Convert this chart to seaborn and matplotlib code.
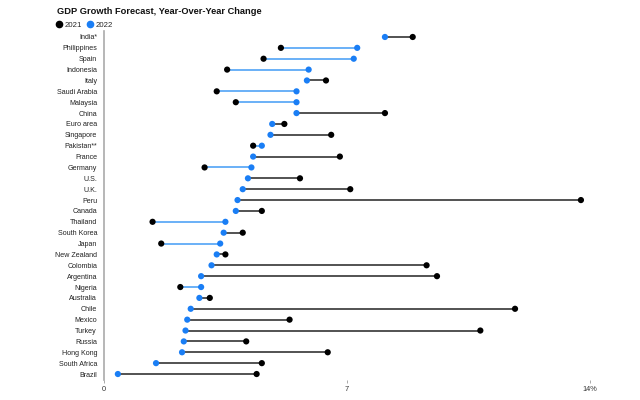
import matplotlib
matplotlib.use("Agg")
import matplotlib.pyplot as plt
from matplotlib.lines import Line2D
import seaborn as sns
import pandas as pd

# forecast values (percent)
countries = ["India*", "Philippines", "Spain", "Indonesia", "Italy", "Saudi Arabia",
             "Malaysia", "China", "Euro area", "Singapore", "Pakistan**", "France",
             "Germany", "U.S.", "U.K.", "Peru", "Canada", "Thailand", "South Korea",
             "Japan", "New Zealand", "Colombia", "Argentina", "Nigeria", "Australia",
             "Chile", "Mexico", "Turkey", "Russia", "Hong Kong", "South Africa", "Brazil"]
gdp_2021 = [8.9, 5.1, 4.6, 3.55, 6.4, 3.25, 3.8, 8.1, 5.2, 6.55, 4.3, 6.8,
            2.9, 5.65, 7.1, 13.75, 4.55, 1.4, 4.0, 1.65, 3.5, 9.3, 9.6, 2.2,
            3.05, 11.85, 5.35, 10.85, 4.1, 6.45, 4.55, 4.4]
gdp_2022 = [8.1, 7.3, 7.2, 5.9, 5.85, 5.55, 5.55, 5.55, 4.85, 4.8, 4.55, 4.3,
            4.25, 4.15, 4.0, 3.85, 3.8, 3.5, 3.45, 3.35, 3.25, 3.1, 2.8, 2.8,
            2.75, 2.5, 2.4, 2.35, 2.3, 2.25, 1.5, 0.4]
years = ["2021", "2022"]
xticks = [0, 7, 14]
xtick_labels = ["0", "7", "14%"]

BLUE = "#1a7ef5"
LIGHT_BLUE = "#5eaaf7"
GREY = "#444444"

df = pd.DataFrame({"country": countries, "2021": gdp_2021, "2022": gdp_2022})
long = df.melt(id_vars="country", value_vars=years, var_name="year", value_name="gdp")

sns.set_style("white")
plt.rcParams["font.family"] = ["Liberation Sans", "DejaVu Sans"]

fig = plt.figure(figsize=(6.4, 4), dpi=100)
ax = fig.add_axes([104 / 640, 0.05, 496 / 640, 0.8725])

pos = {c: i for i, c in enumerate(countries)}
for _, r in df.iterrows():
    col = LIGHT_BLUE if r["2022"] > r["2021"] else GREY
    ax.hlines(pos[r["country"]], r["2021"], r["2022"], color=col, lw=1.3, zorder=1)

sns.scatterplot(data=long, x="gdp", y="country", hue="year", hue_order=years,
                palette={"2021": "black", "2022": BLUE}, s=20, linewidth=0,
                legend=False, ax=ax, zorder=2)

ax.set_xlim(0, 14.3)
ax.set_ylim(31.55, -0.55)
ax.set_xlabel("")
ax.set_ylabel("")
ax.set_xticks(xticks)
ax.set_xticklabels(xtick_labels)
ax.tick_params(axis="x", length=2, width=0.5, color="#888888", labelsize=5.3,
               labelcolor="#333333", pad=2, bottom=True)
ax.tick_params(axis="y", length=0, labelsize=5.1, labelcolor="#222222", pad=5)
for s in ["top", "right", "bottom"]:
    ax.spines[s].set_visible(False)
ax.spines["left"].set_color("#aaaaaa")
ax.spines["left"].set_linewidth(1.2)

fig.text(57 / 640, 1 - 11 / 400, "GDP Growth Forecast, Year-Over-Year Change",
         fontsize=6.7, fontweight="bold", va="center", ha="left", color="#111111")

handles = [Line2D([], [], marker="o", ls="", color="black", markersize=4.5),
           Line2D([], [], marker="o", ls="", color=BLUE, markersize=4.5)]
fig.legend(handles, years, loc="center left", bbox_to_anchor=(56 / 640, 1 - 25 / 400),
           ncol=2, frameon=False, fontsize=5.6, handletextpad=0.35,
           columnspacing=0.6, handlelength=0.8, borderpad=0, borderaxespad=0)

fig.savefig("out.png", dpi=100)
